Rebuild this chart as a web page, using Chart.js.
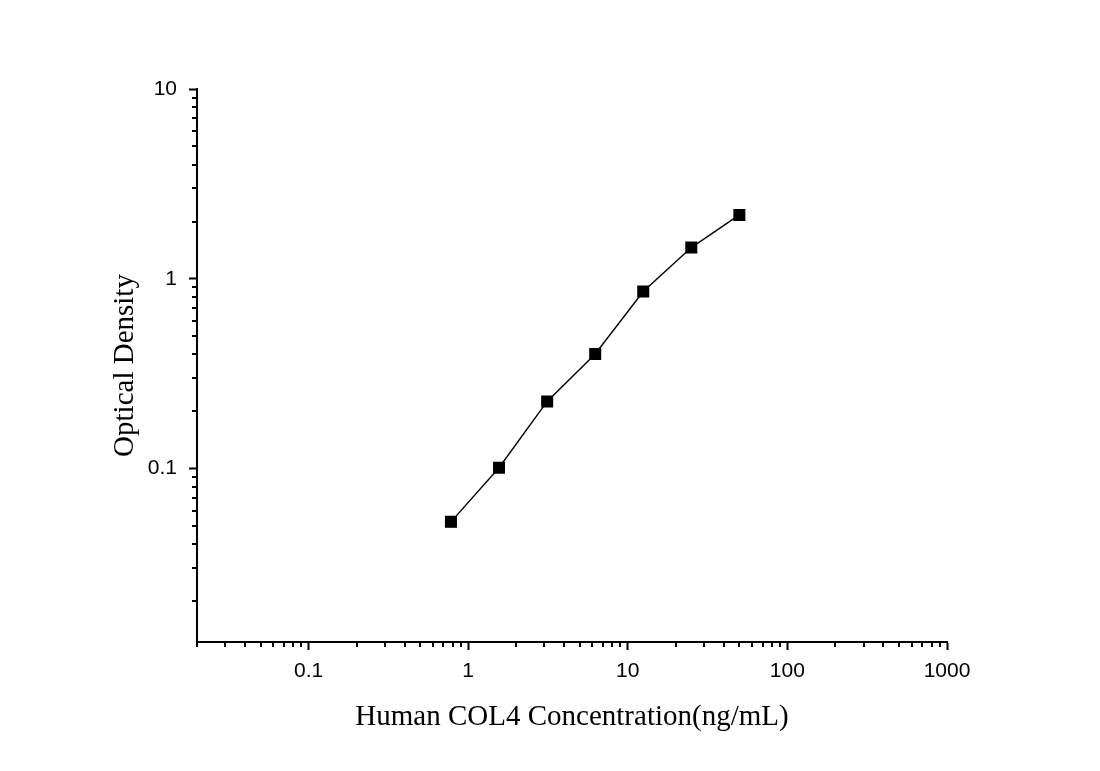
<!DOCTYPE html>
<html>
<head>
<meta charset="utf-8">
<script src="https://cdn.jsdelivr.net/npm/chart.js@4/dist/chart.umd.min.js"></script>
<style>
  html, body { margin: 0; padding: 0; background: #fff; }
  #wrap { width: 1100px; height: 771px; position: relative; }
</style>
</head>
<body>
<div id="wrap"><canvas id="curve"></canvas></div>
<script>
// standard curve data
const concentrations = [0.78, 1.56, 3.125, 6.25, 12.5, 25, 50];
const opticalDensity = [0.0524, 0.101, 0.226, 0.402, 0.857, 1.46, 2.17];

const xMajorTicks = [0.1, 1, 10, 100, 1000];
const yMajorTicks = [0.1, 1, 10];
const xRange = [0.02, 1000];
const yRange = [0.0122, 10];

const xTitle = 'Human COL4 Concentration(ng/mL)';
const yTitle = 'Optical Density';

// small log ticks between the labelled ones
function minorValues(min, max) {
  const out = [];
  for (let e = Math.floor(Math.log10(min)); e <= Math.ceil(Math.log10(max)); e++) {
    for (let m = 2; m <= 9; m++) {
      const v = m * Math.pow(10, e);
      if (v >= min * 0.999 && v <= max * 1.001) out.push(v);
    }
  }
  return out;
}

const minorTicks = {
  id: 'minorTicks',
  afterDraw(chart) {
    const {ctx, scales: {x, y}} = chart;
    ctx.save();
    ctx.strokeStyle = '#000';
    ctx.lineWidth = 2;
    ctx.beginPath();
    minorValues(xRange[0], xRange[1]).forEach(v => {
      const px = Math.round(x.getPixelForValue(v));
      ctx.moveTo(px, x.top);
      ctx.lineTo(px, x.top + 5);
    });
    minorValues(yRange[0], yRange[1]).forEach(v => {
      const py = Math.round(y.getPixelForValue(v));
      ctx.moveTo(y.right, py);
      ctx.lineTo(y.right - 5, py);
    });
    ctx.stroke();
    ctx.restore();
  }
};

const tickFont = {family: '"Liberation Sans", Arial, sans-serif', size: 21};
const titleFont = {family: '"Liberation Serif", "Times New Roman", serif', size: 29};

new Chart(document.getElementById('curve'), {
  type: 'scatter',
  data: {
    datasets: [{
      data: concentrations.map((c, i) => ({x: c, y: opticalDensity[i]})),
      showLine: true,
      borderColor: '#000',
      borderWidth: 1.4,
      backgroundColor: '#000',
      pointStyle: 'rect',
      pointRadius: 7.5,
      pointHoverRadius: 7.5,
      tension: 0
    }]
  },
  options: {
    responsive: true,
    maintainAspectRatio: false,
    animation: false,
    layout: { padding: {top: 89, right: 153, left: 0, bottom: 0} },
    plugins: { legend: {display: false}, tooltip: {enabled: false} },
    scales: {
      x: {
        type: 'logarithmic',
        min: xRange[0],
        max: xRange[1],
        bounds: 'data',
        afterBuildTicks: s => { s.ticks = xMajorTicks.map(v => ({value: v})); },
        afterFit: s => { s.height = 129; },
        border: {display: true, color: '#000', width: 2},
        grid: {display: true, drawOnChartArea: false, drawTicks: true, tickLength: 8, tickWidth: 2, tickColor: '#000'},
        ticks: {
          autoSkip: false, maxRotation: 0, color: '#000', font: tickFont, padding: 9,
          callback: v => String(v)
        },
        title: {display: true, text: xTitle, color: '#000', font: titleFont, padding: {top: 0, bottom: 36}}
      },
      y: {
        type: 'logarithmic',
        min: yRange[0],
        max: yRange[1],
        bounds: 'data',
        afterBuildTicks: s => { s.ticks = yMajorTicks.map(v => ({value: v})); },
        afterFit: s => { s.width = 197; },
        border: {display: true, color: '#000', width: 2},
        grid: {display: true, drawOnChartArea: false, drawTicks: true, tickLength: 8, tickWidth: 2, tickColor: '#000'},
        ticks: {
          autoSkip: false, color: '#000', font: tickFont, padding: 12,
          callback: v => String(v)
        },
        title: {display: true, text: yTitle, color: '#000', font: titleFont, padding: {top: 108, bottom: 0}}
      }
    }
  },
  plugins: [minorTicks]
});
</script>
</body>
</html>
